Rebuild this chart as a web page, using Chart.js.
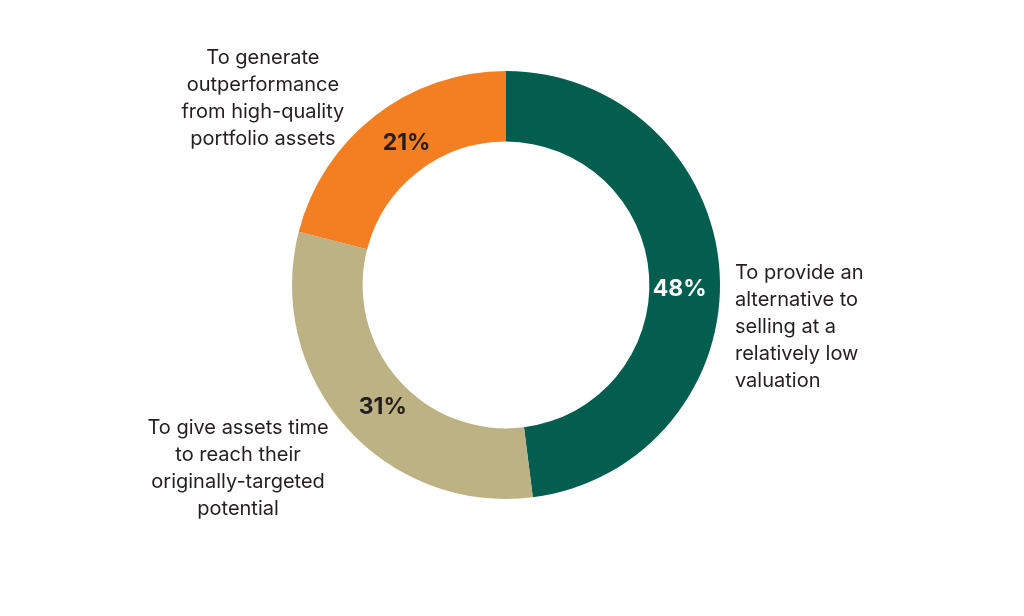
<!DOCTYPE html>
<html>
<head>
<meta charset="utf-8">
<script src="https://cdn.jsdelivr.net/npm/chart.js@4.4.1/dist/chart.umd.min.js"></script>
<style>
    html, body { margin: 0; padding: 0; background: #ffffff; }
    #wrap { width: 1024px; height: 616px; }
</style>
</head>
<body>
<div id="wrap"><canvas id="donutChart" width="1024" height="616"></canvas></div>
<script>
// Chart data
const categories = [
    ['To provide an', 'alternative to', 'selling at a', 'relatively low', 'valuation'],
    ['To give assets time', 'to reach their', 'originally-targeted', 'potential'],
    ['To generate', 'outperformance', 'from high-quality', 'portfolio assets']
];
const shares = [48, 31, 21];
const sliceColors = ['#035e4f', '#bdb283', '#f37f22'];
const valueColors = ['#ffffff', '#231f20', '#231f20'];

/**
 * Draws the percentage inside each slice and the wrapped category text outside
 */
const donutLabels = {
    id: 'donutLabels',
    afterDatasetsDraw(chart, args, opts) {
        const ctx = chart.ctx;
        const meta = chart.getDatasetMeta(0);
        ctx.save();
        meta.data.forEach(function(arc, i) {
            const place = opts.places[i];
            // percentage, a little off the slice mid-angle like the original
            const mid = (arc.startAngle + arc.endAngle) / 2 + place.nudge;
            const r = (arc.innerRadius + arc.outerRadius) / 2 - 5;
            ctx.font = 'bold 23px Inter, "Noto Sans", sans-serif';
            ctx.fillStyle = valueColors[i];
            ctx.textAlign = 'center';
            ctx.textBaseline = 'middle';
            ctx.fillText(shares[i] + '%', arc.x + Math.cos(mid) * r, arc.y + Math.sin(mid) * r);

            // outside category text
            const lines = categories[i];
            const R = arc.outerRadius;
            const x = arc.x + place.dx * R;
            const yc = arc.y + place.dy * R;
            const top = yc - (lines.length - 1) * opts.lineHeight / 2;
            ctx.font = '20px Inter, "Noto Sans", sans-serif';
            ctx.fillStyle = '#231f20';
            ctx.textAlign = place.align;
            lines.forEach(function(line, j) {
                ctx.fillText(line, x, top + j * opts.lineHeight);
            });
        });
        ctx.restore();
    }
};

new Chart(document.getElementById('donutChart'), {
    type: 'doughnut',
    data: {
        labels: categories.map(c => c.join(' ')),
        datasets: [{
            data: shares,
            backgroundColor: sliceColors,
            borderWidth: 0,
            hoverOffset: 0
        }]
    },
    options: {
        responsive: false,
        animation: false,
        cutout: '67%',
        layout: {
            padding: { top: 71, bottom: 117, left: 0, right: 12 }
        },
        plugins: {
            legend: { display: false },
            tooltip: { enabled: false },
            donutLabels: {
                lineHeight: 27,
                places: [
                    { dx: 1.07, dy: 0.195, align: 'left', nudge: 0.085 },
                    { dx: -1.252, dy: 0.857, align: 'center', nudge: -0.06 },
                    { dx: -1.136, dy: -0.871, align: 'center', nudge: 0.05 }
                ]
            }
        }
    },
    plugins: [donutLabels]
});
</script>
</body>
</html>
